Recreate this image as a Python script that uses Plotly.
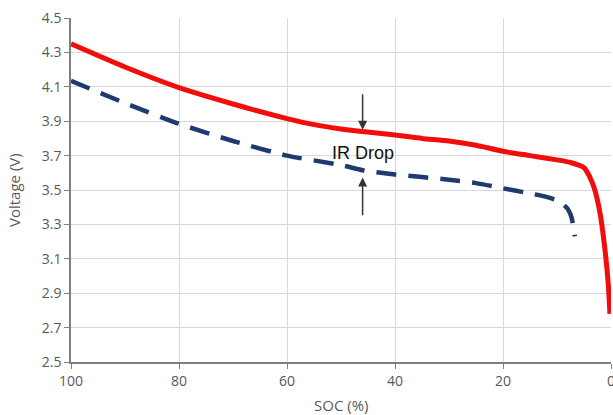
import plotly.graph_objects as go

# Data
soc_red = [100, 90, 80, 70, 60, 55, 50, 46, 40, 35, 30, 25, 20, 15, 10, 7.5, 6, 5, 4, 3, 2, 1, 0.5, 0.2]
v_red = [4.35, 4.215, 4.095, 4.0, 3.915, 3.88, 3.855, 3.84, 3.82, 3.80, 3.785, 3.76, 3.725, 3.70,
         3.675, 3.66, 3.645, 3.63, 3.58, 3.50, 3.36, 3.12, 2.95, 2.78]

soc_blue = [100, 90, 80, 70, 60, 50, 46, 40, 35, 30, 25, 20, 15, 12, 10, 9, 8, 7.3, 7, 6.7]
v_blue = [4.135, 4.005, 3.885, 3.785, 3.70, 3.645, 3.615, 3.59, 3.575, 3.56, 3.54, 3.51, 3.48,
          3.46, 3.44, 3.42, 3.39, 3.34, 3.29, 3.23]

x_ticks = [100, 80, 60, 40, 20, 0]
y_ticks = [2.5, 2.7, 2.9, 3.1, 3.3, 3.5, 3.7, 3.9, 4.1, 4.3, 4.5]

x_title = "SOC (%)"
y_title = "Voltage (V)"
annot_text = "IR Drop"
annot_soc = 46
annot_v = 3.715
arrow_top = (4.065, 3.85)
arrow_bottom = (3.345, 3.572)

fig = go.Figure()
fig.add_trace(go.Scatter(x=soc_blue, y=v_blue, mode="lines",
                         line=dict(color="#1f3a6e", width=4.5, dash="20px,12px", shape="spline", smoothing=0.6),
                         showlegend=False, hoverinfo="skip"))
fig.add_trace(go.Scatter(x=soc_red, y=v_red, mode="lines",
                         line=dict(color="#f20d0d", width=5, shape="spline", smoothing=0.6),
                         showlegend=False, hoverinfo="skip"))

fig.add_annotation(x=annot_soc, y=annot_v, text=annot_text, showarrow=False,
                   font=dict(family="Liberation Sans, Arial", size=18, color="#111111"))
for start, tip in [arrow_top, arrow_bottom]:
    fig.add_annotation(x=annot_soc, y=tip, ax=annot_soc, ay=start, xref="x", yref="y",
                       axref="x", ayref="y", text="", showarrow=True,
                       arrowhead=2, arrowsize=1.2, arrowwidth=1.5, arrowcolor="#333333")

title_font = dict(family="Open Sans", size=15, color="#595959")
fig.add_annotation(x=0.5, y=-0.0, xref="paper", yref="paper", yshift=-43, text=x_title,
                   showarrow=False, font=title_font, xanchor="center", yanchor="middle")
fig.add_annotation(x=0, y=0.5, xref="paper", yref="paper", xshift=-57, text=y_title,
                   showarrow=False, font=title_font, textangle=-90, xanchor="center", yanchor="middle")

tick_font = dict(family="Open Sans", size=14, color="#595959")
fig.update_layout(
    width=613, height=415,
    margin=dict(l=71, r=2, t=18, b=53),
    plot_bgcolor="white", paper_bgcolor="white",
    xaxis=dict(range=[100, 0], tickvals=x_ticks, ticktext=[str(v) for v in x_ticks],
               showgrid=True, gridcolor="#d9d9d9", gridwidth=1,
               showline=True, linecolor="#7f7f7f", linewidth=1.5, automargin=False,
               ticks="outside", ticklen=5, tickcolor="#7f7f7f", tickfont=tick_font,
               ticklabeloverflow="allow", zeroline=False),
    yaxis=dict(range=[2.5, 4.5], tickvals=y_ticks, ticktext=[f"{v:.1f}" for v in y_ticks],
               showgrid=True, gridcolor="#d9d9d9", gridwidth=1,
               showline=True, linecolor="#7f7f7f", linewidth=1.5, automargin=False,
               ticks="outside", ticklen=5, tickcolor="#7f7f7f", tickfont=tick_font,
               ticklabeloverflow="allow", zeroline=False),
)

fig.write_html("out.html", config={"displayModeBar": False},
               post_script="document.body.style.margin='0';document.body.style.padding='0';")
